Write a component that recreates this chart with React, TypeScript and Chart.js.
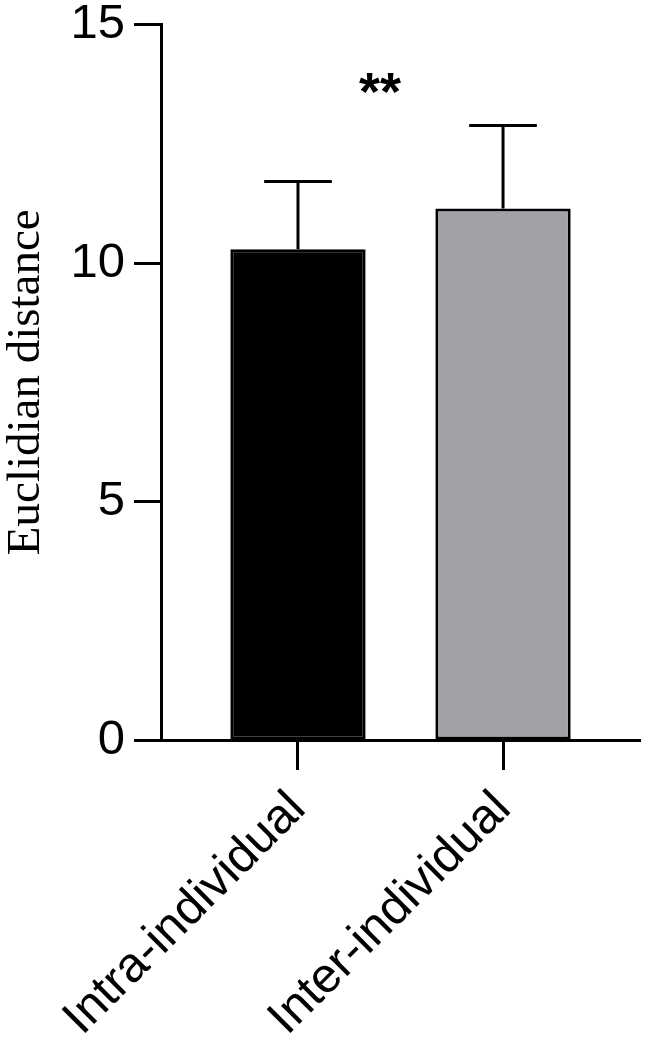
import React, { useEffect, useRef } from "react";
import { Chart, registerables } from "chart.js";

Chart.register(...registerables);

const categories = ["Intra-individual", "Inter-individual"];
const means = [10.29, 11.14];
const upperErrors = [11.71, 12.88];
const yTicks = [0, 5, 10, 15];
const barColors = ["#000000", "#a2a1a6"];
const sigText = "**";
const sigPos = [1.4, 13.72];

const SANS = "'Liberation Sans', Arial, Helvetica, sans-serif";
const SERIF = "'Liberation Serif', 'Times New Roman', serif";

const errorBarPlugin = {
  id: "errorBars",
  afterDatasetsDraw(chart: any) {
    const ctx = chart.ctx;
    const meta = chart.getDatasetMeta(0);
    const yScale = chart.scales.y;
    ctx.save();
    ctx.strokeStyle = "#000";
    ctx.lineWidth = 3;
    ctx.lineCap = "butt";
    meta.data.forEach((bar: any, i: number) => {
      const props = bar.getProps(["x", "y", "width"], true);
      const topY = yScale.getPixelForValue(upperErrors[i]);
      const half = props.width / 4;
      ctx.beginPath();
      ctx.moveTo(props.x, props.y);
      ctx.lineTo(props.x, topY);
      ctx.moveTo(props.x - half, topY);
      ctx.lineTo(props.x + half, topY);
      ctx.stroke();
    });
    const xs = chart.scales.x;
    ctx.fillStyle = "#000";
    ctx.font = `bold 54px ${SANS}`;
    ctx.textAlign = "center";
    ctx.textBaseline = "middle";
    ctx.fillText(sigText, xs.getPixelForValue(sigPos[0]), yScale.getPixelForValue(sigPos[1]) + 10);
    ctx.restore();
  },
};

export default function App() {
  const ref = useRef<HTMLCanvasElement>(null);
  useEffect(() => {
    document.body.style.margin = "0";
    const canvas = ref.current!;
    const chart = new Chart(canvas, {
      type: "bar",
      data: {
        datasets: [
          {
            data: means.map((v, i) => ({ x: i + 1, y: v })),
            backgroundColor: barColors,
            borderColor: "#000",
            borderWidth: 3,
            borderSkipped: false,
            barPercentage: 0.66,
            categoryPercentage: 1,
          },
        ],
      },
      options: {
        responsive: false,
        animation: false,
        events: [],
        layout: { padding: { top: 24.5, right: 6, left: 0, bottom: 0 } },
        plugins: { legend: { display: false }, tooltip: { enabled: false } },
        scales: {
          x: {
            type: "linear",
            offset: false,
            min: 0.332,
            max: 2.668,
            afterBuildTicks: (scale: any) => {
              scale.ticks = categories.map((_, i) => ({ value: i + 1 }));
            },
            afterFit: (scale: any) => {
              scale.height = 303;
            },
            grid: {
              offset: false,
              drawOnChartArea: false,
              drawTicks: true,
              tickLength: 30,
              tickWidth: 3,
              tickColor: "#000",
              color: "#000",
            },
            border: { display: true, color: "#000", width: 3 },
            ticks: {
              autoSkip: false,
              minRotation: 45,
              maxRotation: 45,
              padding: 14,
              color: "#000",
              font: { family: SANS, size: 49, lineHeight: 1 },
              callback: (v: any) => categories[Math.round(v) - 1] ?? "",
            },
          },
          y: {
            min: 0,
            max: 15,
            afterBuildTicks: (scale: any) => {
              scale.ticks = yTicks.map((v) => ({ value: v }));
            },
            afterFit: (scale: any) => {
              scale.width = 161;
              scale.paddingTop = 0;
              scale.paddingBottom = 0;
            },
            grid: {
              drawOnChartArea: false,
              drawTicks: true,
              tickLength: 27,
              tickWidth: 3,
              tickColor: "#000",
              color: "#000",
            },
            border: { display: true, color: "#000", width: 3 },
            ticks: {
              padding: 9,
              color: "#000",
              font: { family: SANS, size: 49, lineHeight: 1 },
            },
            title: {
              display: true,
              text: "Euclidian distance",
              color: "#000",
              padding: { top: 3, bottom: 0 },
              font: { family: SERIF, size: 47, lineHeight: 1 },
            },
          },
        },
      },
      plugins: [errorBarPlugin],
    });
    return () => chart.destroy();
  }, []);
  return (
    <canvas ref={ref} width={646} height={1043} style={{ display: "block" }} />
  );
}
